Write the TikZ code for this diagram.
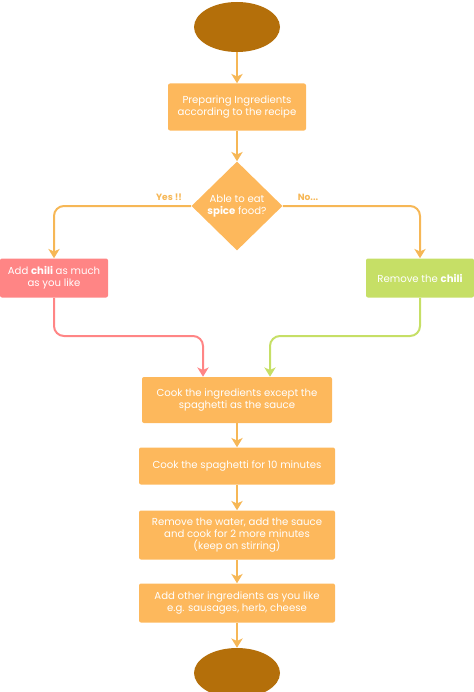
\documentclass[tikz,border=0pt]{standalone}
\usepackage{fontspec}
\setmainfont{Poppins}
\usetikzlibrary{arrows.meta,shapes.geometric}

\definecolor{boxorange}{HTML}{FDB85C}
\definecolor{lineorange}{HTML}{F6B756}
\definecolor{endbrown}{HTML}{B46F0A}
\definecolor{chilired}{HTML}{FF8585}
\definecolor{nogreen}{HTML}{C6DF66}

\tikzset{
  step box/.style={fill=boxorange, rounded corners=1.5pt, text=white, align=center,
    inner sep=0pt, font=\fontsize{7.6}{9.2}\selectfont},
  end oval/.style={ellipse, fill=endbrown, minimum width=64.5pt, minimum height=37.5pt, inner sep=0pt},
  ask box/.style={diamond, fill=boxorange, text=white, align=center, inner sep=0pt,
    minimum width=68.25pt, minimum height=66.75pt, font=\fontsize{7.6}{9.2}\selectfont},
  flow/.style={draw=lineorange, line width=1.5pt, rounded corners=7.5pt,
    -{Stealth[length=7pt,width=8.5pt,inset=2pt]}},
  answer/.style={text=lineorange, font=\fontsize{6.8}{8}\selectfont\bfseries}
}

\begin{document}
\begin{tikzpicture}[x=0.75pt, y=-0.75pt]
    \useasboundingbox (0,0) rectangle (474,692);
    \begin{scope}
    \clip (0,0) rectangle (474,692);
    \node[end oval] (start) at (237,27) {};
    \node[step box, minimum width=103.5pt, minimum height=35.25pt] (prep) at (237,107)
      {Preparing Ingredients\\according to the recipe};
    \node[ask box] (ask) at (237,206) {Able to eat\\\textbf{spice} food?};
    \node[step box, fill=chilired, minimum width=81pt, minimum height=29.25pt] (chili) at (54,278)
      {Add \textbf{chili} as much\\as you like};
    \node[step box, fill=nogreen, minimum width=81pt, minimum height=29.25pt] (nochili) at (420,278)
      {Remove the \textbf{chili}};
    \node[step box, minimum width=142.5pt, minimum height=34.5pt] (sauce) at (237,400)
      {Cook the ingredients except the\\spaghetti as the sauce};
    \node[step box, minimum width=147pt, minimum height=27.75pt] (boil) at (237,466)
      {Cook the spaghetti for 10 minutes};
    \node[step box, minimum width=147pt, minimum height=36.75pt] (mix) at (237,535)
      {Remove the water, add the sauce\\and cook for 2 more minutes\\(keep on stirring)};
    \node[step box, minimum width=147pt, minimum height=29.25pt] (extra) at (237,603)
      {Add other ingredients as you like\\e.g. sausages, herb, cheese};
    \node[end oval] (stop) at (237,673) {};

    \coordinate (joinL) at (203,336);
    \coordinate (joinR) at (270,336);

    \draw[flow] (start) -- (prep);
    \draw[flow] (prep) -- (ask);
    \draw[flow] (ask.west) -| (chili.north);
    \draw[flow] (ask.east) -| (nochili.north);
    \draw[flow, draw=chilired] (chili.south) |- (joinL) -- (sauce.north -| joinL);
    \draw[flow, draw=nogreen] (nochili.south) |- (joinR) -- (sauce.north -| joinR);
    \draw[flow] (sauce) -- (boil);
    \draw[flow] (boil) -- (mix);
    \draw[flow] (mix) -- (extra);
    \draw[flow] (extra) -- (stop);

    \node[answer] (yes) at (169,197) {Yes !!};
    \node[answer] (no) at (308,197) {No...};
    \end{scope}
\end{tikzpicture}
\end{document}
